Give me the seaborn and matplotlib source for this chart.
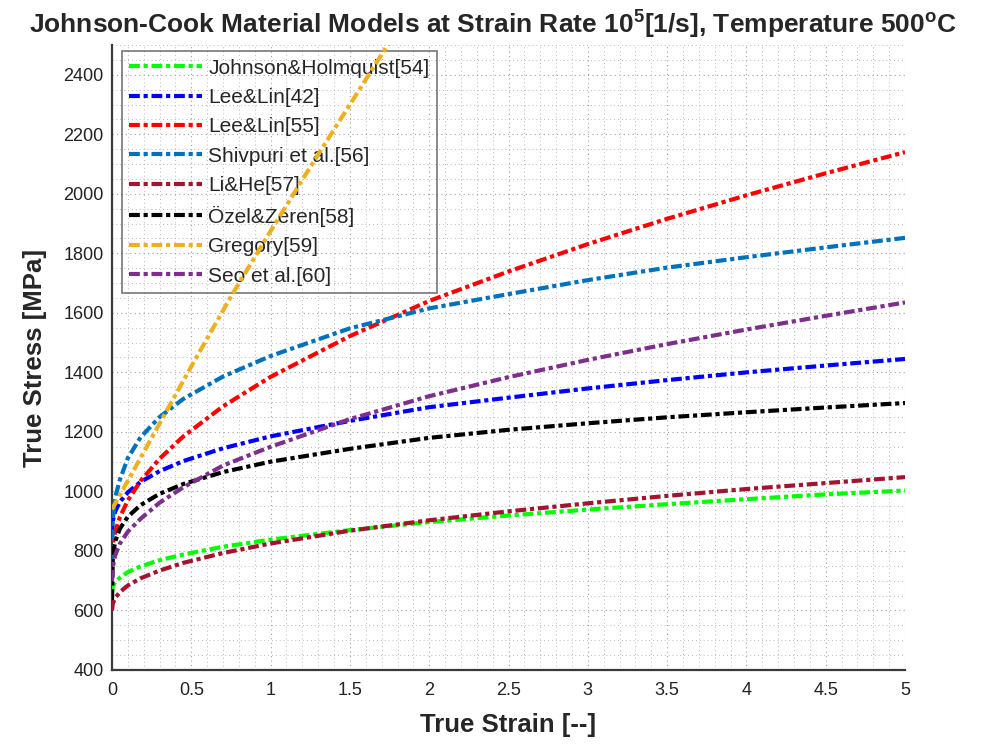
import matplotlib
matplotlib.use("Agg")
import matplotlib.pyplot as plt
import seaborn as sns
import pandas as pd
from matplotlib.ticker import MultipleLocator
from matplotlib.lines import Line2D

# ---- data ----
strain = [0, 0.005, 0.02, 0.05, 0.1, 0.18, 0.3, 0.45, 0.7, 1.0, 1.5, 2.0, 2.5, 3.0, 3.5, 4.0, 4.5, 5.0]
johnson_holmquist = [660, 680, 696, 710, 729, 748, 769, 788, 814, 838, 870, 897, 919, 939, 957, 974, 990, 1003]
lee_lin_42 = [850, 901, 933, 965, 997, 1032, 1068, 1102, 1145, 1185, 1237, 1283, 1315, 1346, 1374, 1400, 1423, 1445]
lee_lin_55 = [780, 822, 865, 914, 970, 1035, 1110, 1185, 1286, 1385, 1522, 1640, 1739, 1831, 1916, 1995, 2069, 2140]
shivpuri = [760, 905, 980, 1040, 1112, 1182, 1250, 1311, 1386, 1455, 1548, 1615, 1663, 1710, 1752, 1787, 1820, 1852]
li_he = [600, 623, 642, 662, 684, 708, 734, 760, 793, 825, 868, 903, 933, 960, 985, 1008, 1028, 1048]
ozel_zeren = [635, 780, 832, 875, 915, 954, 992, 1025, 1065, 1100, 1143, 1180, 1207, 1229, 1249, 1266, 1282, 1297]
seo = [700, 745, 785, 825, 865, 908, 962, 1014, 1087, 1150, 1243, 1320, 1384, 1442, 1495, 1544, 1590, 1635]
gregory_strain = [0, 0.25, 0.5, 0.75, 1.0, 1.25, 1.5, 1.75]
gregory = [940, 1180, 1420, 1655, 1875, 2090, 2300, 2510]

labels = ["Johnson&Holmquist[54]", "Lee&Lin[42]", "Lee&Lin[55]", "Shivpuri et al.[56]",
          "Li&He[57]", "Özel&Zeren[58]", "Gregory[59]", "Seo et al.[60]"]
colors = ["#00FF00", "#0000FF", "#FF0000", "#0072BD", "#A2142F", "#000000", "#EDB120", "#7E2F8E"]

series = [(strain, johnson_holmquist), (strain, lee_lin_42), (strain, lee_lin_55),
          (strain, shivpuri), (strain, li_he), (strain, ozel_zeren),
          (gregory_strain, gregory), (strain, seo)]

sns.set_theme(style="white")
plt.rcParams["font.family"] = ["Liberation Sans", "DejaVu Sans"]
plt.rcParams["mathtext.fontset"] = "custom"
plt.rcParams["mathtext.bf"] = "Liberation Sans:bold"
plt.rcParams["mathtext.rm"] = "Liberation Sans"

fig = plt.figure(figsize=(9.86, 7.45), dpi=100)
ax = fig.add_axes([0.1136, 0.1007, 0.8043, 0.8389])

ls = (0, (2.6, 0.9, 1.0, 0.9))
lw = 3.0
for (xs, ys), lab, col in zip(series, labels, colors):
    df = pd.DataFrame({"strain": xs, "stress": ys})
    sns.lineplot(data=df, x="strain", y="stress", ax=ax, color=col, linewidth=lw,
                 linestyle=ls, legend=False, zorder=3)

ax.set_xlim(0, 5)
ax.set_ylim(400, 2500)
ax.xaxis.set_minor_locator(MultipleLocator(0.1))
ax.yaxis.set_minor_locator(MultipleLocator(50))
ax.set_xticks([i * 0.5 for i in range(11)])
ax.set_xticklabels(["0", "0.5", "1", "1.5", "2", "2.5", "3", "3.5", "4", "4.5", "5"])
ax.set_yticks(list(range(400, 2401, 200)))
ax.set_yticklabels([str(v) for v in range(400, 2401, 200)])

ax.grid(True, which="major", color="#a0a0a0", linestyle=(0, (1, 3)), linewidth=0.8)
ax.grid(True, which="minor", color="#b8b8b8", linestyle=(0, (1, 3)), linewidth=0.7)
ax.set_axisbelow(True)

for side in ["top", "right"]:
    ax.spines[side].set_visible(False)
for side in ["left", "bottom"]:
    ax.spines[side].set_color("#3a3a3a")
    ax.spines[side].set_linewidth(1.6)

ax.tick_params(axis="both", which="major", direction="in", length=7, width=1.3,
               color="#3a3a3a", labelsize=13, labelcolor="#222222", pad=6)
ax.tick_params(axis="x", which="major", pad=9)
ax.tick_params(axis="both", which="minor", length=0)

ax.set_xlabel("True Strain [--]", fontsize=18.5, fontweight="bold", labelpad=10)
ax.set_ylabel("True Stress [MPa]", fontsize=18.5, fontweight="bold", labelpad=12)
fig.suptitle(r"Johnson-Cook Material Models at Strain Rate 10$^{\mathbf{5}}$[1/s], Temperature 500$^{\mathbf{o}}$C",
             x=0.5, y=0.99, fontsize=19, fontweight="bold")

handles = [Line2D([0], [0], color=c, linewidth=lw, linestyle=ls) for c in colors]
leg = ax.legend(handles, labels, loc="upper left", bbox_to_anchor=(0.0126, 0.99),
                fontsize=15, frameon=True, fancybox=False, facecolor="none",
                edgecolor="#555555", handlelength=3.5, handletextpad=0.3,
                labelspacing=0.5, borderpad=0.35, borderaxespad=0.0)
leg.get_frame().set_linewidth(1.2)
leg.set_zorder(2)

fig.savefig("out.png", dpi=100)
